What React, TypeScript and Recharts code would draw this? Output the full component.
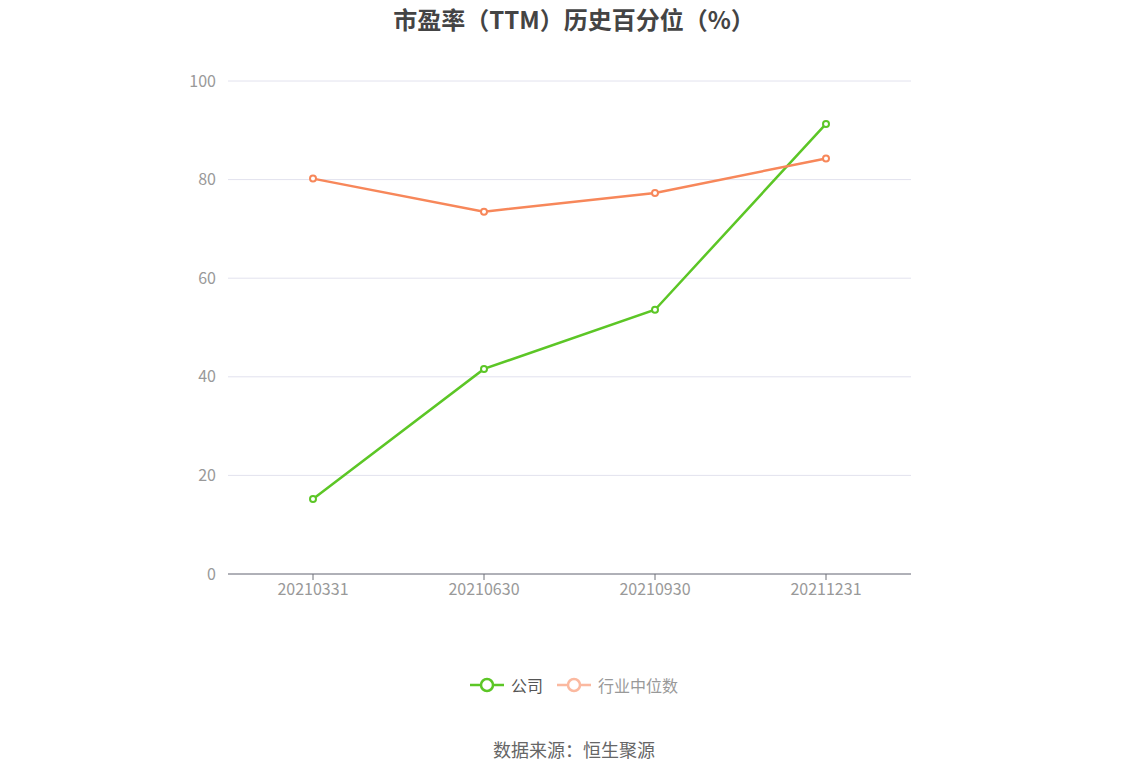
import React from 'react';
import { LineChart, Line, XAxis, YAxis, CartesianGrid, Legend } from 'recharts';

const categories = ['20210331', '20210630', '20210930', '20211231'];
const companyValues = [15.2, 41.6, 53.6, 91.3];
const industryValues = [80.2, 73.5, 77.3, 84.3];
const yTicks = [0, 20, 40, 60, 80, 100];

const GREEN = '#5cc626';
const ORANGE = '#f7875a';

const data = categories.map((c, i) => ({
  date: c,
  company: companyValues[i],
  industry: industryValues[i],
}));

const FONT = '"Microsoft YaHei", "Noto Sans CJK SC", "Noto Sans", sans-serif';

const LegendContent = () => {
  const items = [
    { name: '公司', color: GREEN, text: '#555' },
    { name: '行业中位数', color: '#fbb9a0', text: '#999' },
  ];
  return (
    <div style={{ display: 'flex', justifyContent: 'center', gap: 14, fontFamily: FONT, fontSize: 16, height: 22, lineHeight: '22px' }}>
      {items.map((it) => (
        <div key={it.name} style={{ display: 'flex', alignItems: 'center', gap: 7 }}>
          <svg width={34} height={16}>
            <line x1={0} y1={8} x2={34} y2={8} stroke={it.color} strokeWidth={2.5} />
            <circle cx={17} cy={8} r={6} fill="#fff" stroke={it.color} strokeWidth={2.5} />
          </svg>
          <span style={{ color: it.text }}>{it.name}</span>
        </div>
      ))}
    </div>
  );
};

export default function App() {
  return (
    <div style={{ position: 'relative', width: 1148, height: 776, margin: '-8px 0 0 -8px', background: '#fff', fontFamily: FONT }}>
      <div style={{ position: 'absolute', top: 1, left: 0, width: 1148, textAlign: 'center', fontSize: 24, fontWeight: 'bold', color: '#444' }}>
        市盈率（TTM）历史百分位（%）
      </div>
      <LineChart
        width={1148}
        height={776}
        data={data}
        margin={{ top: 81, right: 237, bottom: 150, left: 168 }}
      >
        <CartesianGrid horizontal vertical={false} stroke="#e2e2ee" />
        <XAxis
          dataKey="date"
          height={30}
          padding={{ left: 85, right: 85 }}
          stroke="#6e7079"
          tick={{ fill: '#999', fontSize: 16 }}
          tickLine={{ stroke: '#6e7079' }}
          tickSize={6}
          tickMargin={4}
        />
        <YAxis
          domain={[0, 100]}
          ticks={yTicks}
          axisLine={false}
          tickLine={false}
          tick={{ fill: '#999', fontSize: 16 }}
          width={60}
          tickSize={6}
          tickMargin={6}
        />
        <Legend
          verticalAlign="bottom"
          align="center"
          content={<LegendContent />}
          wrapperStyle={{ left: 0, width: 1148, top: 674 }}
        />
        <Line
          type="linear"
          dataKey="company"
          name="公司"
          stroke={GREEN}
          strokeWidth={2.5}
          dot={{ r: 3, fill: '#fff', stroke: GREEN, strokeWidth: 2 }}
          isAnimationActive={false}
        />
        <Line
          type="linear"
          dataKey="industry"
          name="行业中位数"
          stroke={ORANGE}
          strokeWidth={2.5}
          dot={{ r: 3, fill: '#fff', stroke: ORANGE, strokeWidth: 2 }}
          isAnimationActive={false}
        />
      </LineChart>
      <div style={{ position: 'absolute', top: 736, left: 0, width: 1148, textAlign: 'center', fontSize: 18, color: '#666' }}>
        数据来源：恒生聚源
      </div>
    </div>
  );
}
